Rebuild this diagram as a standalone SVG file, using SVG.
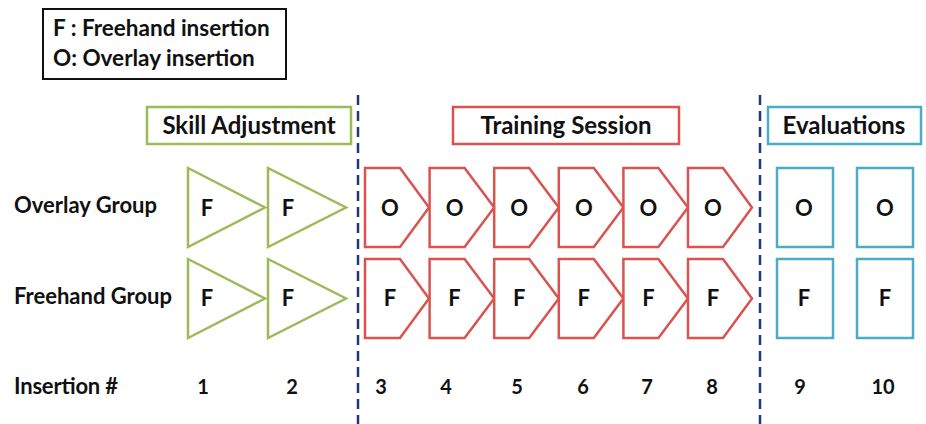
<svg xmlns="http://www.w3.org/2000/svg" width="926" height="424" viewBox="0 0 926 424">
<style>
text{font-family:Lato,"Open Sans","Liberation Sans",sans-serif;font-weight:bold;fill:#111;}
.t{font-size:22.5px;}
.rl{font-size:22px;}
.h{font-size:24px;text-anchor:middle;}
.l{font-size:22px;text-anchor:middle;}
.n{font-size:20px;text-anchor:middle;}
.g{fill:#fff;stroke:#9bbb59;stroke-width:2.5;}
.r{fill:#fff;stroke:#d9534f;stroke-width:2.5;stroke-linejoin:miter;}
.c{fill:#fff;stroke:#4bacc6;stroke-width:2.5;}
.d{stroke:#1f3a7a;stroke-width:2.5;stroke-dasharray:10,6;fill:none;}
</style>
<g id="legend">
<rect x="43" y="9" width="243" height="70" fill="#fff" stroke="#111" stroke-width="2"/>
<text class="t" x="53" y="36">F : Freehand insertion</text>
<text class="t" x="53" y="66">O: Overlay insertion</text>
</g>
<g id="connectors">
<line class="d" x1="358" y1="95" x2="358" y2="424"/>
<line class="d" x1="760" y1="95" x2="760" y2="424"/>
</g>
<g id="hdr-skill"><rect class="g" x="147" y="107" width="204" height="37"/><text class="h" x="249" y="134">Skill Adjustment</text></g>
<g id="hdr-training"><rect class="r" x="453" y="107" width="226" height="37"/><text class="h" x="566" y="134">Training Session</text></g>
<g id="hdr-eval"><rect class="c" x="768" y="107" width="153" height="37"/><text class="h" x="844" y="134">Evaluations</text></g>
<g id="rowlabels">
<text class="rl" x="14" y="213">Overlay Group</text>
<text class="rl" x="14" y="304">Freehand Group</text>
<text class="rl" x="14" y="394" textLength="104">Insertion #</text>
</g>
<g id="tri-o1"><polygon class="g" points="188,168 265,207.5 188,247"/><text class="l" x="207" y="215.5">F</text></g>
<g id="tri-o2"><polygon class="g" points="268,168 346,207.5 268,247"/><text class="l" x="288" y="215.5">F</text></g>
<g id="tri-f1"><polygon class="g" points="188,259 265,298.5 188,338"/><text class="l" x="207" y="306">F</text></g>
<g id="tri-f2"><polygon class="g" points="268,259 346,298.5 268,338"/><text class="l" x="288" y="306">F</text></g>
<g id="pent-o3"><polygon class="r" points="365,168 400,168 429,207.5 400,247 365,247"/><text class="l" x="390" y="215.5">O</text></g>
<g id="pent-o4"><polygon class="r" points="429.6,168 464.6,168 494.2,207.5 464.6,247 429.6,247"/><text class="l" x="454.6" y="215.5">O</text></g>
<g id="pent-o5"><polygon class="r" points="494.2,168 529.2,168 558.8,207.5 529.2,247 494.2,247"/><text class="l" x="519.2" y="215.5">O</text></g>
<g id="pent-o6"><polygon class="r" points="558.8,168 593.8,168 623.4,207.5 593.8,247 558.8,247"/><text class="l" x="583.8" y="215.5">O</text></g>
<g id="pent-o7"><polygon class="r" points="623.4,168 658.4,168 688,207.5 658.4,247 623.4,247"/><text class="l" x="648.4" y="215.5">O</text></g>
<g id="pent-o8"><polygon class="r" points="688,168 723,168 752,207.5 723,247 688,247"/><text class="l" x="713" y="215.5">O</text></g>
<g id="pent-f3"><polygon class="r" points="365,259 400,259 429,298.5 400,338 365,338"/><text class="l" x="390" y="306">F</text></g>
<g id="pent-f4"><polygon class="r" points="429.6,259 464.6,259 494.2,298.5 464.6,338 429.6,338"/><text class="l" x="454.6" y="306">F</text></g>
<g id="pent-f5"><polygon class="r" points="494.2,259 529.2,259 558.8,298.5 529.2,338 494.2,338"/><text class="l" x="519.2" y="306">F</text></g>
<g id="pent-f6"><polygon class="r" points="558.8,259 593.8,259 623.4,298.5 593.8,338 558.8,338"/><text class="l" x="583.8" y="306">F</text></g>
<g id="pent-f7"><polygon class="r" points="623.4,259 658.4,259 688,298.5 658.4,338 623.4,338"/><text class="l" x="648.4" y="306">F</text></g>
<g id="pent-f8"><polygon class="r" points="688,259 723,259 752,298.5 723,338 688,338"/><text class="l" x="713" y="306">F</text></g>
<g id="eval-o9"><rect class="c" x="777" y="168" width="56" height="79"/><text class="l" x="804" y="215.5">O</text></g>
<g id="eval-o10"><rect class="c" x="857" y="168" width="56" height="79"/><text class="l" x="885" y="215.5">O</text></g>
<g id="eval-f9"><rect class="c" x="777" y="259" width="56" height="79"/><text class="l" x="804" y="306">F</text></g>
<g id="eval-f10"><rect class="c" x="857" y="259" width="56" height="79"/><text class="l" x="885" y="306">F</text></g>
<g id="numbers">
<text class="n" x="203" y="394">1</text>
<text class="n" x="292" y="394">2</text>
<text class="n" x="381" y="394">3</text>
<text class="n" x="446" y="394">4</text>
<text class="n" x="517" y="394">5</text>
<text class="n" x="583" y="394">6</text>
<text class="n" x="647" y="394">7</text>
<text class="n" x="712" y="394">8</text>
<text class="n" x="800" y="394">9</text>
<text class="n" x="883" y="394">10</text>
</g>
</svg>
